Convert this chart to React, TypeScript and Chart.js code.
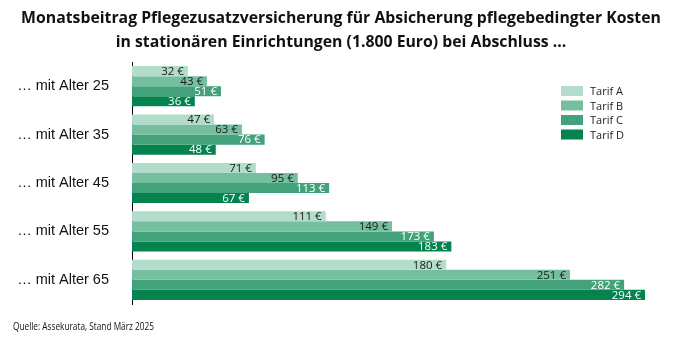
import React, { useEffect, useRef } from "react";
import { Chart, registerables } from "chart.js";
Chart.register(...registerables);

const categories = ["… mit Alter 25", "… mit Alter 35", "… mit Alter 45", "… mit Alter 55", "… mit Alter 65"];
const seriesNames = ["Tarif A", "Tarif B", "Tarif C", "Tarif D"];
const tarifA = [32, 47, 71, 111, 180];
const tarifB = [43, 63, 95, 149, 251];
const tarifC = [51, 76, 113, 173, 282];
const tarifD = [36, 48, 67, 183, 294];
const colors = ["#b2dccb", "#75bf9f", "#43a27b", "#05834f"];
const labelColors = ["#1a1a1a", "#1a1a1a", "#ffffff", "#ffffff"];
const titleLines = [
  "Monatsbeitrag Pflegezusatzversicherung für Absicherung pflegebedingter Kosten",
  "in stationären Einrichtungen (1.800 Euro) bei Abschluss ...",
];
const sourceText = "Quelle: Assekurata, Stand März 2025";
const FONT = "'Open Sans', 'Noto Sans', sans-serif";
const CAT_FONT = "'Liberation Sans', Arial, sans-serif";

export default function App() {
  const ref = useRef<HTMLCanvasElement>(null);
  useEffect(() => {
    document.body.style.margin = "0";
    const canvas = ref.current!;
    const decor = {
      id: "decor",
      afterDraw(chart: any) {
        const ctx = chart.ctx;
        ctx.save();
        // title
        ctx.fillStyle = "#111";
        ctx.textAlign = "center";
        ctx.textBaseline = "middle";
        ctx.font = `bold 15.8px ${FONT}`;
        ctx.fillText(titleLines[0], 341, 18);
        ctx.fillText(titleLines[1], 341, 42);
        // source
        ctx.textAlign = "left";
        ctx.font = `11px ${FONT}`;
        ctx.fillText(sourceText, 13, 327, 141);
        // legend
        ctx.font = `11px ${FONT}`;
        seriesNames.forEach((n, i) => {
          const y = 91 + i * 14.5;
          ctx.fillStyle = colors[i];
          ctx.fillRect(561, y - 5, 22, 10);
          ctx.fillStyle = "#222";
          ctx.fillText(n, 590, y + 1);
        });
        // data labels
        ctx.textAlign = "right";
        ctx.font = `11.5px ${FONT}`;
        chart.data.datasets.forEach((ds: any, di: number) => {
          const meta = chart.getDatasetMeta(di);
          meta.data.forEach((bar: any, j: number) => {
            ctx.fillStyle = labelColors[di];
            ctx.fillText(`${ds.data[j]} €`, bar.x - 4, bar.y + 0.5);
          });
        });
        ctx.restore();
      },
    };
    const chart = new Chart(canvas, {
      type: "bar",
      data: {
        labels: categories,
        datasets: [tarifA, tarifB, tarifC, tarifD].map((d, i) => ({
          label: seriesNames[i],
          data: d,
          backgroundColor: colors[i],
          borderWidth: 0,
          categoryPercentage: 0.83,
          barPercentage: 1.0,
        })),
      },
      options: {
        indexAxis: "y",
        responsive: false,
        animation: false,
        layout: { padding: { top: 62, bottom: 46, left: 0, right: 22.5 } },
        plugins: { legend: { display: false }, title: { display: false }, tooltip: { enabled: false } },
        scales: {
          x: { display: false, min: 0, max: 300 },
          y: {
            grid: { display: false, drawTicks: false },
            border: { display: true, color: "#000", width: 1 },
            ticks: { color: "#111", font: { family: CAT_FONT, size: 14.5 }, padding: 23 },
            afterFit(scale: any) {
              scale.width = 132;
            },
          },
        },
      },
      plugins: [decor],
    });
    return () => chart.destroy();
  }, []);
  return <canvas ref={ref} width={678} height={350} style={{ display: "block" }} />;
}
